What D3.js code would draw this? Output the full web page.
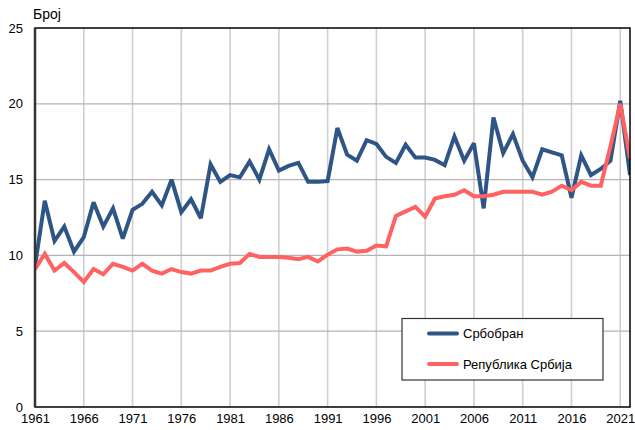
<!DOCTYPE html>
<html>
<head>
<meta charset="utf-8">
<script src="https://cdn.jsdelivr.net/npm/d3@7"></script>
<style>
  body { margin: 0; background: #fff; }
  text { font-family: "Liberation Sans", Arial, sans-serif; }
</style>
</head>
<body>
<script>
// years on the x axis
const years = d3.range(1961, 2023);

// Србобран
const srbobran = [
  9.3, 13.6, 10.95, 11.9, 10.25, 11.2, 13.5, 11.9, 13.1, 11.1,
  13.0, 13.4, 14.2, 13.3, 15.0, 12.85, 13.7, 12.45, 16.0, 14.85,
  15.3, 15.15, 16.2, 15.0, 17.0, 15.6, 15.9, 16.1, 14.85, 14.85,
  14.9, 18.4, 16.65, 16.25, 17.6, 17.35, 16.5, 16.1, 17.3, 16.45,
  16.45, 16.3, 15.95, 17.85, 16.25, 17.4, 13.1, 19.1, 16.75, 18.0,
  16.25, 15.15, 17.0, 16.8, 16.6, 13.8, 16.6, 15.3, 15.7, 16.25,
  20.2, 15.3
];

// Република Србија
const srbija = [
  9.1, 10.1, 9.0, 9.5, 8.9, 8.25, 9.1, 8.75, 9.45, 9.25,
  9.0, 9.45, 9.0, 8.8, 9.1, 8.9, 8.8, 9.0, 9.0, 9.25,
  9.45, 9.5, 10.1, 9.9, 9.9, 9.9, 9.85, 9.75, 9.9, 9.6,
  10.05, 10.4, 10.45, 10.25, 10.3, 10.65, 10.6, 12.6, 12.9, 13.2,
  12.55, 13.75, 13.9, 14.0, 14.3, 13.9, 13.9, 14.0, 14.2, 14.2,
  14.2, 14.2, 14.0, 14.2, 14.6, 14.3, 14.85, 14.6, 14.6, 17.2,
  20.0, 16.4
];

const xTicks = d3.range(1961, 2022, 5);
const yTicks = [0, 5, 10, 15, 20, 25];

const W = 635, H = 430;
const margin = { top: 28, right: 5, bottom: 23, left: 35 };

const svg = d3.select('body').append('svg')
  .attr('width', W)
  .attr('height', H);

const x = d3.scaleLinear()
  .domain([1961, 2022])
  .range([margin.left, W - margin.right]);

const y = d3.scaleLinear()
  .domain([0, 25])
  .range([H - margin.bottom, margin.top]);

// grid
svg.append('g')
  .selectAll('line')
  .data(xTicks.slice(1))
  .enter().append('line')
  .attr('x1', d => x(d)).attr('x2', d => x(d))
  .attr('y1', y(25)).attr('y2', y(0))
  .attr('stroke', '#cfcfcf')
  .attr('stroke-width', 1.6);

svg.append('g')
  .selectAll('line')
  .data(yTicks.slice(1, -1))
  .enter().append('line')
  .attr('x1', x(1961)).attr('x2', x(2022))
  .attr('y1', d => y(d)).attr('y2', d => y(d))
  .attr('stroke', '#b4b4b4')
  .attr('stroke-width', 1.2);

// lines
const series = [
  { name: 'Србобран', values: srbobran, color: '#2e5585' },
  { name: 'Република Србија', values: srbija, color: '#ff6262' }
];

const line = d3.line()
  .x((d, i) => x(years[i]))
  .y(d => y(d));

const clip = svg.append('clipPath').attr('id', 'plot')
  .append('rect')
  .attr('x', x(1961)).attr('y', y(25))
  .attr('width', x(2022) - x(1961))
  .attr('height', y(0) - y(25));

svg.append('g')
  .attr('clip-path', 'url(#plot)')
  .selectAll('path')
  .data(series)
  .enter().append('path')
  .attr('d', d => line(d.values))
  .attr('fill', 'none')
  .attr('stroke', d => d.color)
  .attr('stroke-width', 4)
  .attr('stroke-linejoin', 'miter')
  .attr('stroke-miterlimit', 3);

// frame
svg.append('rect')
  .attr('x', x(1961)).attr('y', y(25))
  .attr('width', x(2022) - x(1961))
  .attr('height', y(0) - y(25))
  .attr('fill', 'none')
  .attr('stroke', '#000')
  .attr('stroke-width', 1.5);

svg.append('line')
  .attr('x1', x(1961)).attr('x2', x(1961))
  .attr('y1', y(25)).attr('y2', y(0))
  .attr('stroke', '#333')
  .attr('stroke-width', 2.5);

// axes labels
const xAxis = svg.append('g')
  .attr('transform', `translate(0,${y(0)})`)
  .call(d3.axisBottom(x).tickValues(xTicks).tickFormat(d3.format('d')).tickSize(0).tickPadding(7));
xAxis.select('.domain').remove();
xAxis.selectAll('text')
  .attr('font-size', 13)
  .attr('fill', '#000')
  .style('font-family', '"Liberation Sans", Arial, sans-serif');

const yAxis = svg.append('g')
  .attr('transform', `translate(${x(1961)},0)`)
  .call(d3.axisLeft(y).tickValues(yTicks).tickSize(0).tickPadding(12));
yAxis.select('.domain').remove();
yAxis.selectAll('text')
  .attr('font-size', 13)
  .attr('fill', '#000')
  .style('font-family', '"Liberation Sans", Arial, sans-serif');

svg.append('text')
  .attr('x', 33).attr('y', 19)
  .attr('font-size', 14)
  .text('Број');

// legend
const legend = svg.append('g');
legend.append('rect')
  .attr('x', 402).attr('y', 318.5)
  .attr('width', 201).attr('height', 61.5)
  .attr('fill', '#fff')
  .attr('stroke', '#333')
  .attr('stroke-width', 1.2);

const item = legend.selectAll('g.item')
  .data(series)
  .enter().append('g')
  .attr('class', 'item')
  .attr('transform', (d, i) => `translate(0,${333.5 + i * 30.5})`);

item.append('line')
  .attr('x1', 429).attr('x2', 457)
  .attr('stroke', d => d.color)
  .attr('stroke-width', 4)
  .attr('stroke-linecap', 'round');

item.append('text')
  .attr('x', 463).attr('y', 4.5)
  .attr('font-size', 13)
  .text(d => d.name);
</script>
</body>
</html>
